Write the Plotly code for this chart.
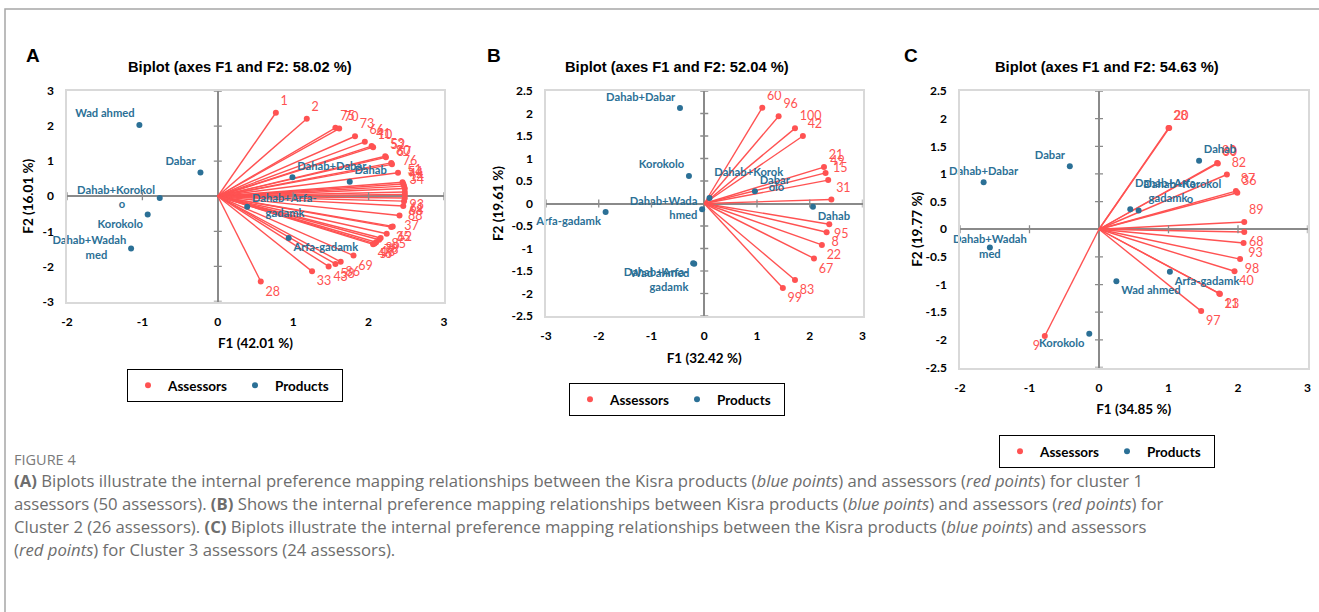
import plotly.graph_objects as go

# ---------------- data ----------------
# Panel A (cluster 1)
a_ids = ["1", "2", "75", "70", "73", "66", "41", "10", "53", "52", "80", "67", "76", "51", "54", "44", "14", "34",
         "93", "61", "68", "88", "37", "62", "35", "85", "89", "78", "18", "57", "46", "69", "86", "58", "43", "33", "28"]
a_f1 = [0.77, 1.18, 1.56, 1.61, 1.82, 1.95, 2.04, 2.06, 2.22, 2.23, 2.30, 2.31, 2.39, 2.45, 2.46, 2.47, 2.48, 2.48,
        2.48, 2.48, 2.47, 2.46, 2.41, 2.32, 2.30, 2.24, 2.16, 2.14, 2.10, 2.08, 2.06, 1.80, 1.63, 1.56, 1.47, 1.25, 0.57]
a_f2 = [2.38, 2.21, 1.95, 1.93, 1.71, 1.55, 1.43, 1.40, 1.14, 1.11, 0.95, 0.91, 0.67, 0.40, 0.35, 0.29, 0.22, 0.12,
        0.05, -0.05, -0.14, -0.28, -0.55, -0.86, -0.88, -1.07, -1.19, -1.24, -1.31, -1.35, -1.37, -1.69, -1.87, -1.93,
        -2.00, -2.14, -2.43]
a_products = ["Wad ahmed", "Dabar", "Dahab+Korokolo", "Korokolo", "Dahab+Wadahmed", "Dahab+Dabar", "Dahab",
              "Dahab+Arfa-gadamk", "Arfa-gadamk"]
a_prod_f1 = [-1.04, -0.23, -0.77, -0.93, -1.15, 0.99, 1.75, 0.39, 0.94]
a_prod_f2 = [2.03, 0.68, -0.05, -0.52, -1.49, 0.54, 0.41, -0.30, -1.19]

# Panel B (cluster 2)
b_ids = ["60", "96", "100", "42", "21", "49", "15", "31", "95", "8", "22", "67", "83", "99"]
b_f1 = [1.10, 1.41, 1.72, 1.87, 2.27, 2.30, 2.35, 2.41, 2.37, 2.32, 2.23, 2.08, 1.72, 1.49]
b_f2 = [2.13, 1.94, 1.67, 1.50, 0.81, 0.68, 0.52, 0.09, -0.46, -0.64, -0.92, -1.22, -1.70, -1.88]
b_products = ["Dahab+Dabar", "Korokolo", "Arfa-gadamk", "Dahab+Wadahmed", "Wad ahmed", "Dahab+Arfa-gadamk",
              "Dahab+Korokolo", "Dabar", "Dahab"]
b_prod_f1 = [-0.46, -0.29, -1.87, -0.04, -0.19, -0.21, 0.10, 0.96, 2.06]
b_prod_f2 = [2.12, 0.61, -0.19, -0.13, -1.34, -1.33, 0.12, 0.27, -0.07]

# Panel C (cluster 3)
c_ids = ["28", "20", "80", "60", "82", "87", "36", "89", "68", "93", "98", "40", "11", "23", "97", "9"]
c_f1 = [1.00, 1.01, 1.70, 1.71, 1.84, 1.97, 1.99, 2.09, 2.09, 2.08, 2.03, 1.95, 1.73, 1.74, 1.47, -0.78]
c_f2 = [1.83, 1.83, 1.20, 1.19, 0.99, 0.69, 0.66, 0.13, -0.05, -0.25, -0.54, -0.76, -1.16, -1.17, -1.48, -1.93]
c_products = ["Dabar", "Dahab+Dabar", "Dahab+Wadahmed", "Korokolo", "Dahab", "Dahab+Arfa-gadamk",
              "Dahab+Korokolo", "Arfa-gadamk", "Wad ahmed"]
c_prod_f1 = [-0.42, -1.66, -1.57, -0.14, 1.44, 0.45, 0.57, 1.02, 0.25]
c_prod_f2 = [1.14, 0.85, -0.33, -1.89, 1.24, 0.36, 0.34, -0.77, -0.94]

titles = ["Biplot (axes F1 and F2: 58.02 %)", "Biplot (axes F1 and F2: 52.04 %)", "Biplot (axes F1 and F2: 54.63 %)"]
x_titles = ["F1 (42.01 %)", "F1 (32.42 %)", "F1 (34.85 %)"]
y_titles = ["F2 (16.01 %)", "F2 (19.61 %)", "F2 (19.77 %)"]
letters = ["A", "B", "C"]

# ---------------- styles ----------------
RED = "#FF5252"
BLUE = "#2B7096"
W, H = 1319, 612
NB = "\u00a0"

# label wrapping / placement as seen in the reference (style only)
wrap = {
    "A": {"Dahab+Korokolo": "Dahab+Korokol<br>o" + NB * 11, "Dahab+Wadahmed": "Dahab+Wadah<br>med" + NB * 7,
          "Dahab+Arfa-gadamk": "Dahab+Arfa-<br>" + NB * 5 + "gadamk"},
    "B": {"Dahab+Wadahmed": "Dahab+Wada<br>hmed", "Dahab+Arfa-gadamk": "Dahab+Arfa-<br>gadamk",
          "Dahab+Korokolo": "Dahab+Korok<br>" + NB * 20 + "olo"},
    "C": {"Dahab+Wadahmed": "Dahab+Wadah<br>med", "Dahab+Arfa-gadamk": "Dahab+Arfa-<br>" + NB * 5 + "gadamk",
          "Dahab+Korokolo": "Dahab+Korokol<br>" + NB * 16 + "o"},
}
place = {
    "A": {"Wad ahmed": "top left", "Dabar": "top left", "Dahab+Korokolo": "middle left", "Korokolo": "bottom left",
          "Dahab+Wadahmed": "middle left", "Dahab+Dabar": "top right", "Dahab": "top right",
          "Dahab+Arfa-gadamk": "middle right", "Arfa-gadamk": "bottom right"},
    "B": {"Dahab+Dabar": "top left", "Korokolo": "top left", "Arfa-gadamk": "bottom left",
          "Dahab+Wadahmed": "middle left", "Wad ahmed": "bottom left", "Dahab+Arfa-gadamk": "bottom left",
          "Dahab+Korokolo": "top right", "Dabar": "top right", "Dahab": "bottom right"},
    "C": {"Dabar": "top left", "Dahab+Dabar": "top center", "Dahab+Wadahmed": "middle center",
          "Korokolo": "bottom left", "Dahab": "top right", "Dahab+Arfa-gadamk": "top right",
          "Dahab+Korokolo": "top right", "Arfa-gadamk": "bottom right", "Wad ahmed": "bottom right"},
}

# panel geometry in pixels: (left, right, top, bottom), axis ranges, tick step
panels = [
    dict(key="A", px=(67, 444, 91, 301.5), xr=(-2, 3), yr=(-3, 3), xt=1, yt=1, ystand=6,
         legend=(127, 369), title_x=240, letter_x=33, ids=a_ids, f1=a_f1, f2=a_f2,
         prods=a_products, pf1=a_prod_f1, pf2=a_prod_f2),
    dict(key="B", px=(546, 862.5, 91, 316), xr=(-3, 3), yr=(-2.5, 2.5), xt=1, yt=0.5, ystand=5,
         legend=(569, 383), title_x=677, letter_x=494, ids=b_ids, f1=b_f1, f2=b_f2,
         prods=b_products, pf1=b_prod_f1, pf2=b_prod_f2),
    dict(key="C", px=(960, 1307.5, 91, 367.5), xr=(-2, 3), yr=(-2.5, 2.5), xt=1, yt=0.5, ystand=0,
         legend=(999, 435), title_x=1107, letter_x=911, ids=c_ids, f1=c_f1, f2=c_f2,
         prods=c_products, pf1=c_prod_f1, pf2=c_prod_f2),
]


def fmt(v):
    return "%g" % round(v, 2)


def frange(a, b, step):
    n = int(round((b - a) / step))
    return [round(a + i * step, 6) for i in range(n + 1)]


fig = go.Figure()
shapes = []
annotations = []
layout_axes = {}

for i, p in enumerate(panels):
    n = "" if i == 0 else str(i + 1)
    xa, ya = "x" + n, "y" + n
    leg = "legend" + n
    key = p["key"]

    # assessor vectors
    lx, ly = [], []
    for x, y in zip(p["f1"], p["f2"]):
        lx += [0, x, None]
        ly += [0, y, None]
    fig.add_trace(go.Scatter(x=lx, y=ly, mode="lines", line=dict(color=RED, width=1.4),
                             xaxis=xa, yaxis=ya, showlegend=False, hoverinfo="skip"))
    tpos = []
    for x, y in zip(p["f1"], p["f2"]):
        h = "right" if x >= 0 else "left"
        v = "top" if y >= 0.08 else "bottom"
        tpos.append(v + " " + h)
    fig.add_trace(go.Scatter(x=p["f1"], y=p["f2"], mode="markers+text", text=p["ids"],
                             textposition=tpos, name="Assessors", cliponaxis=False,
                             textfont=dict(family="Lato", size=12.5, color=RED),
                             marker=dict(color=RED, size=6), xaxis=xa, yaxis=ya, legend=leg))
    fig.add_trace(go.Scatter(x=p["pf1"], y=p["pf2"], mode="markers+text",
                             text=[wrap[key].get(s, s) for s in p["prods"]], cliponaxis=False,
                             textposition=[place[key][s] for s in p["prods"]], name="Products",
                             textfont=dict(family="Lato", size=11.2, color=BLUE, weight="bold"),
                             marker=dict(color=BLUE, size=6), xaxis=xa, yaxis=ya, legend=leg))

    L, R, T, B = p["px"]
    xtv = frange(p["xr"][0], p["xr"][1], p["xt"])
    ytv = frange(p["yr"][0], p["yr"][1], p["yt"])
    common = dict(showgrid=False, zeroline=True, zerolinecolor="#8a8a8a", zerolinewidth=1.6,
                  showline=True, mirror=True, linecolor="#d9d9d9", linewidth=1.5,
                  ticks="outside", tickcolor="rgba(0,0,0,0)", automargin=False,
                  tickfont=dict(family="Lato", size=12, color="black", weight="bold"),
                  title_font=dict(family="Lato", size=13.5, color="black", weight="bold"),
                  fixedrange=True)
    layout_axes["xaxis" + n] = dict(common, domain=[L / W, R / W], range=list(p["xr"]), anchor=ya,
                                    tickvals=xtv, ticktext=[fmt(v) for v in xtv], ticklen=8,
                                    title=dict(text=x_titles[i], standoff=11))
    layout_axes["yaxis" + n] = dict(common, domain=[1 - B / H, 1 - T / H], range=list(p["yr"]), anchor=xa,
                                    tickvals=ytv, ticktext=[fmt(v) for v in ytv], ticklen=9,
                                    title=dict(text=y_titles[i], standoff=p["ystand"]))

    # cross tick marks on the zero lines (Excel style)
    for v in xtv:
        if abs(v) > 1e-9:
            shapes.append(dict(type="line", xref=xa, yref=ya, x0=v, x1=v, ysizemode="pixel", yanchor=0,
                               y0=-4, y1=4, line=dict(color="#8a8a8a", width=1.3)))
    for v in ytv:
        if abs(v) > 1e-9:
            shapes.append(dict(type="line", xref=xa, yref=ya, y0=v, y1=v, xsizemode="pixel", xanchor=0,
                               x0=-4, x1=4, line=dict(color="#8a8a8a", width=1.3)))

    # panel title and letter
    annotations.append(dict(text="<b>" + titles[i] + "</b>", xref="paper", yref="paper",
                            x=p["title_x"] / W, y=1 - 67 / H, xanchor="center", yanchor="middle",
                            showarrow=False, font=dict(family="Liberation Sans", size=14.7, color="black")))
    annotations.append(dict(text="<b>" + letters[i] + "</b>", xref="paper", yref="paper",
                            x=p["letter_x"] / W, y=1 - 55 / H, xanchor="center", yanchor="middle",
                            showarrow=False, font=dict(family="Liberation Sans", size=19, color="black")))

    lgx, lgy = p["legend"]
    layout_axes[leg] = dict(orientation="h", x=lgx / W, y=1 - lgy / H, xanchor="left", yanchor="top",
                            bordercolor="black", borderwidth=1, bgcolor="white",
                            font=dict(family="Lato", size=13.5, color="black", weight="bold"),
                            itemwidth=30, entrywidth=62, tracegroupgap=0)

# outer frame of the figure panel
shapes.append(dict(type="rect", xref="paper", yref="paper", x0=5 / W, x1=1.02, y0=-0.05, y1=1 - 9 / H,
                   line=dict(color="#a6a6a6", width=1.5), layer="below"))

# caption
cap_col = "#6d6d6d"
annotations.append(dict(text="FIGURE 4", xref="paper", yref="paper", x=12 / W, y=1 - 459 / H,
                        xanchor="left", yanchor="middle", showarrow=False,
                        font=dict(family="Open Sans", size=14.5, color="#7a7a7a")))
cap_lines = [
    "<b>(A)</b> Biplots illustrate the internal preference mapping relationships between the Kisra products "
    "(<i>blue points</i>) and assessors (<i>red points</i>) for cluster 1",
    "assessors (50 assessors). <b>(B)</b> Shows the internal preference mapping relationships between Kisra "
    "products (<i>blue points</i>) and assessors (<i>red points</i>) for",
    "Cluster 2 (26 assessors). <b>(C)</b> Biplots illustrate the internal preference mapping relationships "
    "between the Kisra products (<i>blue points</i>) and assessors",
    "(<i>red points</i>) for Cluster 3 assessors (24 assessors).",
]
for k, line in enumerate(cap_lines):
    annotations.append(dict(text=line, xref="paper", yref="paper", x=12 / W, y=1 - (480 + 23 * k) / H,
                            xanchor="left", yanchor="middle", showarrow=False,
                            font=dict(family="Open Sans", size=16.7, color=cap_col)))

fig.update_layout(width=W, height=H, margin=dict(l=0, r=0, t=0, b=0), paper_bgcolor="white",
                  plot_bgcolor="white", shapes=shapes, annotations=annotations, showlegend=True,
                  **layout_axes)
fig.write_html("out.html", config={"displayModeBar": False},
               post_script="document.body.style.margin='0px';")
